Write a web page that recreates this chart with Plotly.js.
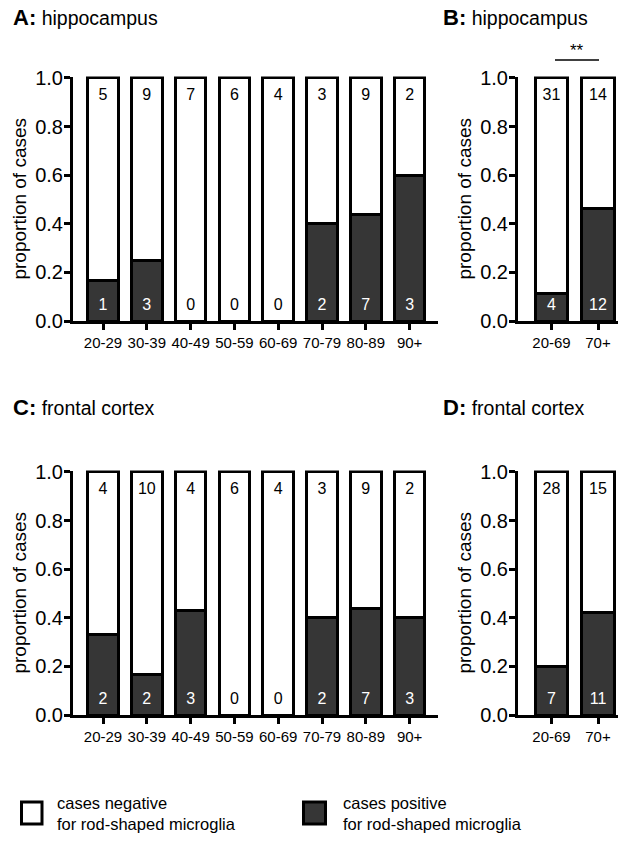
<!DOCTYPE html>
<html>
<head>
<meta charset="utf-8">
<script src="https://cdn.plot.ly/plotly-3.0.1.min.js"></script>
<style>html,body{margin:0;padding:0;background:#fff;}#chart{width:618px;height:841px;}</style>
</head>
<body>
<div id="chart"></div>
<script>
// ---- data ----
const ageGroups = ["20-29","30-39","40-49","50-59","60-69","70-79","80-89","90+"];
const ageGroups2 = ["20-69","70+"];

// Panel A: hippocampus by decade
const propPosA = [0.167, 0.25, 0, 0, 0, 0.4, 0.4375, 0.6];
const negCountA = [5, 9, 7, 6, 4, 3, 9, 2];
const posCountA = [1, 3, 0, 0, 0, 2, 7, 3];

// Panel B: hippocampus grouped
const propPosB = [0.114, 0.462];
const negCountB = [31, 14];
const posCountB = [4, 12];

// Panel C: frontal cortex by decade
const propPosC = [0.333, 0.167, 0.43, 0, 0, 0.4, 0.44, 0.4];
const negCountC = [4, 10, 4, 6, 4, 3, 9, 2];
const posCountC = [2, 2, 3, 0, 0, 2, 7, 3];

// Panel D: frontal cortex grouped
const propPosD = [0.2, 0.423];
const negCountD = [28, 15];
const posCountD = [7, 11];

const yTicks = [0, 0.2, 0.4, 0.6, 0.8, 1.0];

// ---- styling ----
const DARK = '#363636';
const FONT = 'Liberation Sans, Arial, Helvetica, sans-serif';
const W = 618, H = 841;

function panelTraces(cats, prop, negC, posC, xa, ya) {
  const neg = prop.map(p => 1 - p);
  return [
    {type:'bar', x:cats, y:prop, xaxis:xa, yaxis:ya, width:0.7,
     marker:{color:DARK, line:{color:'#000', width:3}}, hoverinfo:'skip', showlegend:false},
    {type:'bar', x:cats, y:neg, xaxis:xa, yaxis:ya, width:0.7,
     marker:{color:'#fff', line:{color:'#000', width:3}}, hoverinfo:'skip', showlegend:false},
    {type:'scatter', mode:'text', x:cats, y:cats.map(()=>0.925), text:negC.map(String),
     xaxis:xa, yaxis:ya, cliponaxis:false, textfont:{family:FONT, size:16, color:'#000'},
     hoverinfo:'skip', showlegend:false},
    {type:'scatter', mode:'text', x:cats, y:cats.map(()=>0.062), text:posC.map(String),
     xaxis:xa, yaxis:ya, cliponaxis:false,
     textfont:{family:FONT, size:16, color:prop.map(p => p > 0 ? '#fff' : '#000')},
     hoverinfo:'skip', showlegend:false}
  ];
}

const data = [].concat(
  panelTraces(ageGroups, propPosA, negCountA, posCountA, 'x', 'y'),
  panelTraces(ageGroups2, propPosB, negCountB, posCountB, 'x2', 'y2'),
  panelTraces(ageGroups, propPosC, negCountC, posCountC, 'x3', 'y3'),
  panelTraces(ageGroups2, propPosD, negCountD, posCountD, 'x4', 'y4')
);

function xAxis(domain, range, anchor) {
  return {domain, range, anchor, type:'category', showline:true, linewidth:3, linecolor:'#000',
    ticks:'outside', ticklen:6, tickwidth:3, tickcolor:'#000', showgrid:false, zeroline:false,
    tickfont:{family:FONT, size:15, color:'#000'}, fixedrange:true};
}
function yAxis(domain, anchor) {
  return {domain, anchor, range:[0, 1.006], showline:true, linewidth:3, linecolor:'#000',
    tickvals:yTicks, ticktext:yTicks.map(v => v.toFixed(1)),
    ticks:'outside', ticklen:6, tickwidth:3, tickcolor:'#000', showgrid:false, zeroline:false,
    ticklabelstandoff:-3,
    tickfont:{family:FONT, size:20, color:'#000'},
    title:{text:'proportion of cases', font:{family:FONT, size:19, color:'#000'}, standoff:4},
    fixedrange:true};
}

const dA = [73/W, 438/W], dB = [518/W, 1];
const yTop = [1 - 321/H, 1 - 76.5/H], yBot = [1 - 715/H, 1 - 470.5/H];

function title(letter, text, px, py) {
  return {xref:'paper', yref:'paper', x:px/W, y:1 - py/H, xanchor:'left', yanchor:'middle',
    showarrow:false, align:'left',
    text:'<span style="font-size:22px"><b>' + letter + ':</b></span> ' + text,
    font:{family:FONT, size:19.5, color:'#000'}};
}
function legText(text, px, py) {
  return {xref:'paper', yref:'paper', x:px/W, y:1 - py/H, xanchor:'left', yanchor:'middle',
    showarrow:false, align:'left', text, font:{family:FONT, size:16.5, color:'#000'}};
}

const layout = {
  width:W, height:H, margin:{l:0, r:0, t:0, b:0},
  paper_bgcolor:'#fff', plot_bgcolor:'rgba(0,0,0,0)',
  barmode:'stack', bargap:0.3, showlegend:false,
  xaxis: xAxis(dA, [-0.685, 7.648], 'y'),
  yaxis: yAxis(yTop, 'x'),
  xaxis2: xAxis(dB, [-0.72, 1.43], 'y2'),
  yaxis2: yAxis(yTop, 'x2'),
  xaxis3: xAxis(dA, [-0.685, 7.648], 'y3'),
  yaxis3: yAxis(yBot, 'x3'),
  xaxis4: xAxis(dB, [-0.72, 1.43], 'y4'),
  yaxis4: yAxis(yBot, 'x4'),
  annotations: [
    title('A', 'hippocampus', 11, 18),
    title('B', 'hippocampus', 441, 18),
    title('C', 'frontal cortex', 11, 407),
    title('D', 'frontal cortex', 441, 407),
    {xref:'paper', yref:'paper', x:577/W, y:1 - 50/H, xanchor:'center', yanchor:'middle',
     showarrow:false, text:'**', font:{family:FONT, size:17, color:'#000'}},
    legText('cases negative', 55, 803),
    legText('for rod-shaped microglia', 55, 824),
    legText('cases positive', 341, 803),
    legText('for rod-shaped microglia', 341, 824)
  ],
  shapes: [
    {type:'line', xref:'paper', yref:'paper', x0:555/W, x1:599/W, y0:1 - 60/H, y1:1 - 60/H,
     line:{color:'#000', width:1.5}},
    {type:'rect', xref:'paper', yref:'paper', x0:21.5/W, x1:42/W, y0:1 - 824/H, y1:1 - 802/H,
     fillcolor:'#fff', line:{color:'#000', width:3}},
    {type:'rect', xref:'paper', yref:'paper', x0:303.5/W, x1:325.5/W, y0:1 - 824/H, y1:1 - 802/H,
     fillcolor:DARK, line:{color:'#000', width:3}}
  ]
};

Plotly.newPlot('chart', data, layout, {staticPlot:true, displayModeBar:false});
</script>
</body>
</html>
